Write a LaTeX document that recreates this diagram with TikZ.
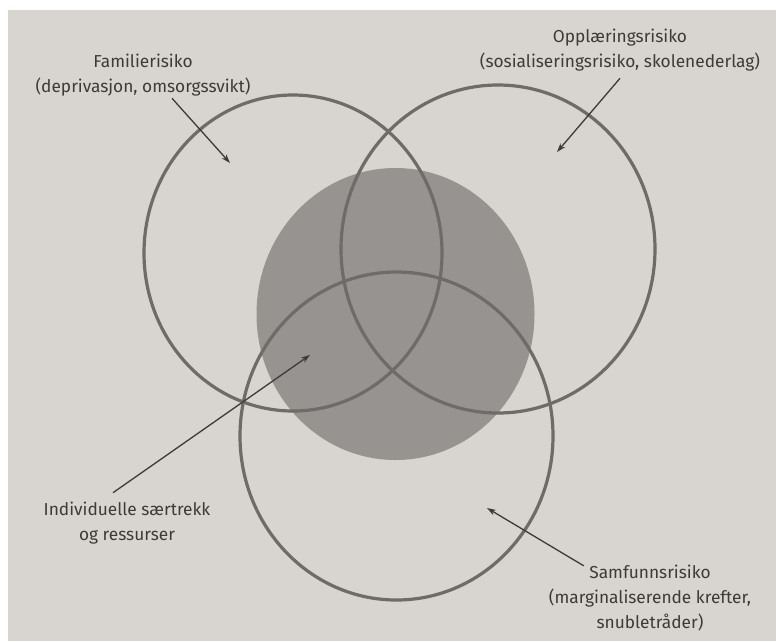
\documentclass[tikz,border=0pt]{standalone}
\usepackage{fontspec}
\setmainfont{Fira Sans}
\usetikzlibrary{arrows.meta, positioning, calc}
\definecolor{pgpaper}{HTML}{D8D4CF}
\definecolor{pgshade}{HTML}{979390}
\definecolor{pgring}{HTML}{6F6B68}
\definecolor{pgink}{HTML}{3E3A38}

\begin{document}
\begin{tikzpicture}[x=1pt, y=-1pt,
        note/.style={text=pgink, align=center, inner sep=2pt,
          font=\fontsize{17.3}{25}\selectfont},
        ring/.style={draw=pgring, line width=3.2pt},
        arr/.style={-{Stealth[length=9pt,width=6pt]}, draw=pgink, line width=1.3pt}]
        % page
        \useasboundingbox (0,0) rectangle (776,641);
        \fill[white] (0,0) rectangle (776,641);
        \fill[pgpaper] (8,10) rectangle (776,641);
        % core and the three risk rings
        \fill[pgshade] (395.5,314) ellipse [x radius=139, y radius=146];
        \draw[ring] (293,253) ellipse [x radius=149, y radius=158];
        \draw[ring] (498,249) ellipse [x radius=157, y radius=164];
        \draw[ring] (396.5,436) ellipse [x radius=156.5, y radius=164];
        % labels
        \node[note] (fam) at (143,75) {Familierisiko\\(deprivasjon, omsorgssvikt)};
        \node[note] (opp) at (620,50) {Opplæringsrisiko\\(sosialiseringsrisiko, skolenederlag)};
        \node[note] (ind) at (127,523) {Individuelle særtrekk\\og ressurser};
        \node[note] (sam) at (650,598) {Samfunnsrisiko\\(marginaliserende krefter,\\snubletråder)};
        \coordinate (famtip) at (230,163);
        \coordinate (opptip) at (557,152);
        \coordinate (indtip) at (310,355);
        \coordinate (samtip) at (487,508);
        \draw[arr] ($(fam.south)+(29,0)$) -- (famtip);
        \draw[arr] ($(opp.south)+(0,5)$) -- (opptip);
        \draw[arr] ($(ind.north)+(-14,-7)$) -- (indtip);
        \draw[arr] ($(sam.north west)+(37,3)$) -- (samtip);
      \end{tikzpicture}
\end{document}
